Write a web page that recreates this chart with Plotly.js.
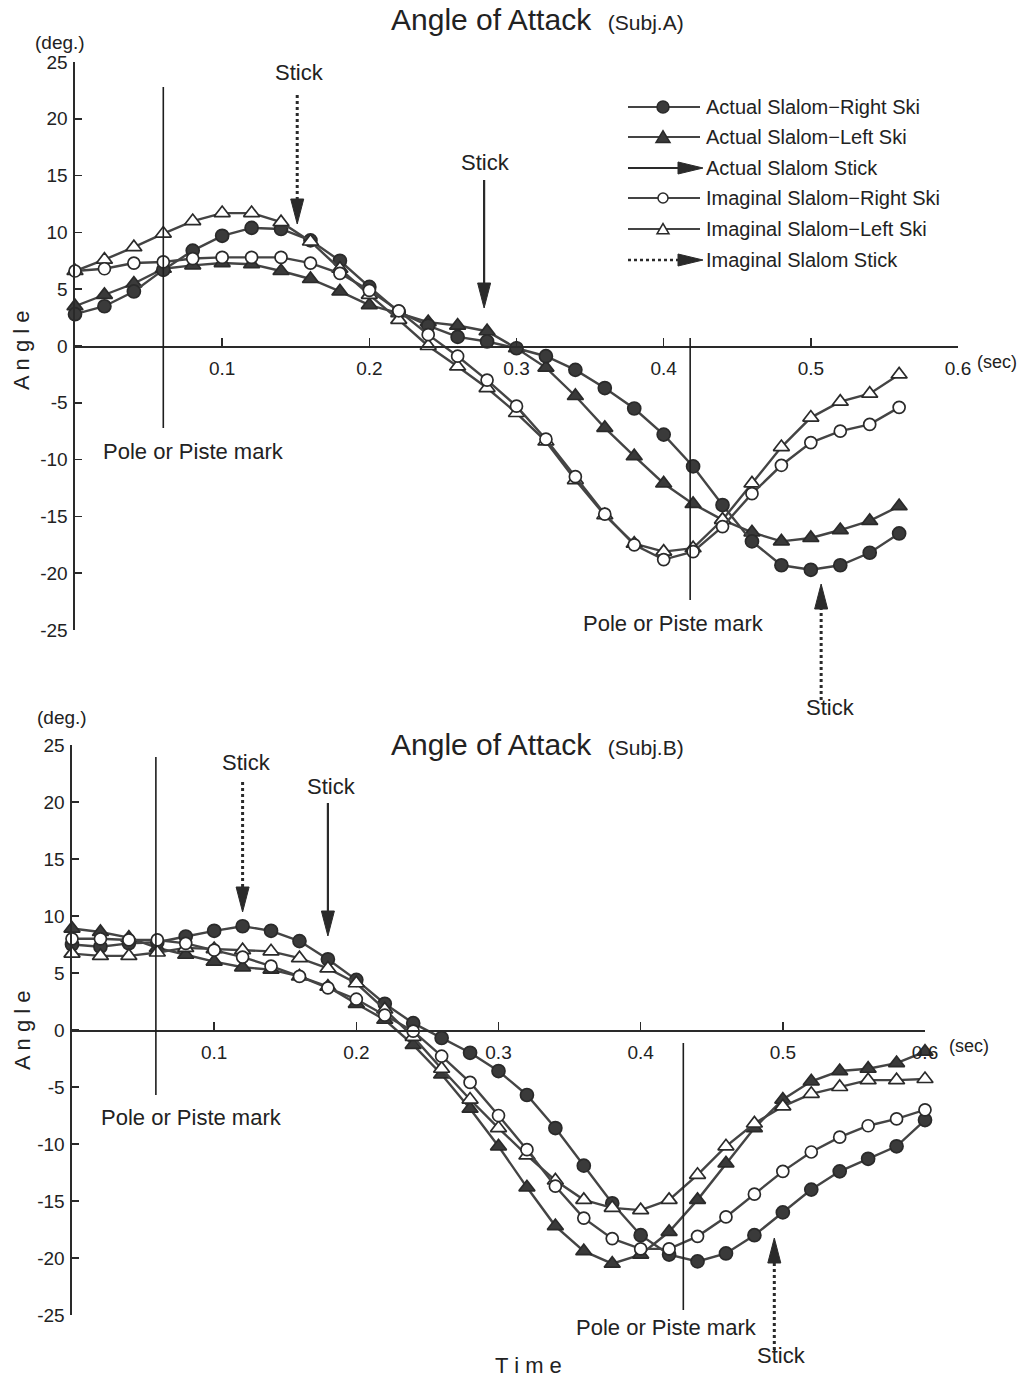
<!DOCTYPE html>
<html><head><meta charset="utf-8">
<script src="https://cdn.plot.ly/plotly-3.0.1.min.js"></script>
<style>body{margin:0;background:#fff}#chart{width:1027px;height:1378px}</style>
</head><body><div id="chart"></div>
<script>
// ---------------- DATA ----------------
const timeA = [0,0.02,0.04,0.06,0.08,0.10,0.12,0.14,0.16,0.18,0.20,0.22,0.24,0.26,0.28,0.30,0.32,0.34,0.36,0.38,0.40,0.42,0.44,0.46,0.48,0.50,0.52,0.54,0.56];
const actualRightA = [2.8,3.5,4.8,6.7,8.4,9.7,10.4,10.3,9.3,7.5,5.2,3.0,1.8,0.8,0.4,-0.2,-0.9,-2.1,-3.7,-5.5,-7.8,-10.6,-14.0,-17.2,-19.3,-19.7,-19.3,-18.2,-16.5];
const actualLeftA = [3.5,4.5,5.5,6.8,7.1,7.3,7.2,6.6,5.9,4.8,3.6,2.9,2.1,1.8,1.3,-0.2,-1.9,-4.4,-7.2,-9.7,-12.1,-13.9,-15.3,-16.4,-17.2,-16.9,-16.2,-15.4,-14.1];
const imagRightA = [6.6,6.8,7.3,7.4,7.7,7.8,7.8,7.8,7.3,6.4,4.9,3.1,1.0,-0.9,-3.0,-5.3,-8.2,-11.5,-14.8,-17.5,-18.8,-18.1,-15.9,-13.0,-10.5,-8.5,-7.5,-6.9,-5.4];
const imagLeftA = [6.6,7.6,8.7,9.9,11.0,11.7,11.7,10.9,9.2,6.8,4.5,2.3,0.0,-1.8,-3.7,-5.9,-8.4,-11.8,-14.9,-17.4,-18.1,-17.8,-15.3,-12.1,-8.9,-6.3,-4.9,-4.2,-2.5];

const timeB = [0,0.02,0.04,0.06,0.08,0.10,0.12,0.14,0.16,0.18,0.20,0.22,0.24,0.26,0.28,0.30,0.32,0.34,0.36,0.38,0.40,0.42,0.44,0.46,0.48,0.50,0.52,0.54,0.56,0.58,0.60];
const actualRightB = [7.5,7.3,7.6,7.7,8.2,8.7,9.1,8.7,7.8,6.2,4.4,2.3,0.6,-0.7,-2.0,-3.6,-5.7,-8.6,-11.9,-15.2,-18.0,-19.7,-20.3,-19.6,-18.0,-16.0,-14.0,-12.4,-11.3,-10.2,-7.9];
const actualLeftB = [8.9,8.6,8.1,7.2,6.6,6.0,5.5,5.3,4.7,3.8,2.3,0.9,-1.3,-3.9,-6.9,-10.2,-13.8,-17.2,-19.4,-20.5,-19.7,-17.7,-14.9,-11.7,-8.6,-6.1,-4.5,-3.6,-3.4,-2.9,-1.9];
const imagRightB = [8.0,8.0,7.9,7.9,7.6,7.0,6.4,5.6,4.7,3.7,2.7,1.3,-0.1,-2.3,-4.6,-7.5,-10.5,-13.7,-16.5,-18.3,-19.2,-19.2,-18.1,-16.4,-14.4,-12.4,-10.7,-9.4,-8.4,-7.8,-7.0];
const imagLeftB = [6.7,6.5,6.5,6.8,7.2,7.1,7.0,6.9,6.3,5.4,4.1,1.8,-0.6,-3.4,-6.1,-8.6,-11.0,-13.2,-14.9,-15.6,-15.8,-14.9,-12.7,-10.2,-8.2,-6.7,-5.6,-5.0,-4.4,-4.4,-4.3];

const poleTimesA = [0.06, 0.418];
const poleTimesB = [0.059, 0.43];
const stickA = {imaginal1: 0.151, actual: 0.278, imaginal2: 0.507};
const stickB = {imaginal1: 0.120, actual: 0.180, imaginal2: 0.494};

const xTickVals = [0.1,0.2,0.3,0.4,0.5,0.6];
const xTickText = ['0.1','0.2','0.3','0.4','0.5','0.6'];
const yTickVals = [-25,-20,-15,-10,-5,0,5,10,15,20,25];
const yTickText = ['-25','-20','-15','-10','-5','0','5','10','15','20','25'];

const legendNames = ['Actual Slalom\u2212Right Ski','Actual Slalom\u2212Left Ski','Actual Slalom Stick',
                     'Imaginal Slalom\u2212Right Ski','Imaginal Slalom\u2212Left Ski','Imaginal Slalom Stick'];

// ---------------- STYLE / LAYOUT ----------------
const W = 1027, H = 1378;
const PX = x => x / W, PY = y => 1 - y / H;
const FONT = 'Liberation Sans, Arial, Helvetica, sans-serif';
const LINE = '#444444', DARK = '#2a2a2a', FILL = '#3a3a3a', TXT = '#222222';

// pixel geometry of the two panels
const A = {x0: 75, x1: 958, yTop: 62, yBot: 630, yZero: 346};
const B = {x0: 72, x1: 925, yTop: 745, yBot: 1315, yZero: 1030};

function series(x, y, xa, ya, sym, fill, size) {
  return {x: x, y: y, xaxis: xa, yaxis: ya, type: 'scatter', mode: 'lines+markers',
    line: {color: LINE, width: 2.4},
    marker: {symbol: sym, size: size, color: fill, line: {color: DARK, width: 1.7}},
    showlegend: false, cliponaxis: false, hoverinfo: 'skip'};
}

const data = [
  series(timeA, actualLeftA, 'x', 'y', 'triangle-up', FILL, 14),
  series(timeA, actualRightA, 'x', 'y', 'circle', FILL, 13),
  series(timeA, imagLeftA, 'x', 'y', 'triangle-up', '#ffffff', 14),
  series(timeA, imagRightA, 'x', 'y', 'circle', '#ffffff', 12),
  series(timeB, actualLeftB, 'x2', 'y2', 'triangle-up', FILL, 14),
  series(timeB, actualRightB, 'x2', 'y2', 'circle', FILL, 13),
  series(timeB, imagLeftB, 'x2', 'y2', 'triangle-up', '#ffffff', 14),
  series(timeB, imagRightB, 'x2', 'y2', 'circle', '#ffffff', 12)
];

function xAxis(P) {
  return {domain: [PX(P.x0), PX(P.x1)], range: [0, 0.6], anchor: 'free', position: PY(P.yZero),
    showline: true, linecolor: DARK, linewidth: 1.6, ticks: 'inside', ticklen: 8, tickwidth: 1.6, tickcolor: DARK,
    tickvals: xTickVals, ticktext: xTickText, ticklabelstandoff: 5,
    tickfont: {family: FONT, size: 19, color: TXT}, showgrid: false, zeroline: false, fixedrange: true};
}
function yAxis(P, anchorX) {
  return {domain: [PY(P.yBot), PY(P.yTop)], range: [-25, 25], anchor: anchorX,
    showline: true, linecolor: DARK, linewidth: 1.6, ticks: 'inside', ticklen: 7, tickwidth: 1.6, tickcolor: DARK,
    tickvals: yTickVals, ticktext: yTickText, ticklabelstandoff: 2,
    tickfont: {family: FONT, size: 19, color: TXT}, showgrid: false, zeroline: false, fixedrange: true};
}

const shapes = [], annotations = [];

function vline(xref, t, y0, y1) {
  shapes.push({type: 'line', xref: xref, yref: 'paper', x0: t, x1: t, y0: PY(y0), y1: PY(y1),
    line: {color: '#1e1e1e', width: 1.6}});
}
function arrow(xref, P, t, yStart, tip, dotted) {
  const unit = (P.x1 - P.x0) / 0.6;
  const hw = 6.5 / unit;
  const dir = tip > yStart ? 1 : -1;
  const base = tip - dir * 25;
  shapes.push({type: 'line', xref: xref, yref: 'paper', x0: t, x1: t, y0: PY(yStart), y1: PY(base),
    line: {color: '#2a2a2a', width: dotted ? 3 : 2.2, dash: dotted ? 'dot' : 'solid'}});
  shapes.push({type: 'path', xref: xref, yref: 'paper',
    path: `M ${t - hw} ${PY(base)} L ${t + hw} ${PY(base)} L ${t} ${PY(tip)} Z`,
    fillcolor: '#2a2a2a', line: {color: '#2a2a2a', width: 1}});
}
function text(x, y, s, size, opts) {
  annotations.push(Object.assign({xref: 'paper', yref: 'paper', x: PX(x), y: PY(y), text: s, showarrow: false,
    xanchor: 'center', yanchor: 'middle', font: {family: FONT, size: size, color: TXT}}, opts || {}));
}

const TITLE_SUB = s => 'Angle of Attack\u00a0\u00a0<span style="font-size:21px">(' + s + ')</span>';

// Panel A decorations
vline('x', poleTimesA[0], 87, 428);
vline('x', poleTimesA[1], 338, 600);
arrow('x', A, stickA.imaginal1, 95, 224, true);
arrow('x', A, stickA.actual, 180, 308, false);
arrow('x', A, stickA.imaginal2, 700, 584, true);
text(299, 73, 'Stick', 22);
text(485, 163, 'Stick', 22);
text(830, 707, 'Stick', 22);
text(193, 452, 'Pole or Piste mark', 22);
text(673, 623, 'Pole or Piste mark', 22);
text(537, 20, TITLE_SUB('Subj.A'), 30);
text(60, 42, '(deg.)', 19);
text(997, 362, '(sec)', 18);
text(22, 350, 'A n g l e', 22, {textangle: -90});

// Panel B decorations
vline('x2', poleTimesB[0], 757, 1095);
vline('x2', poleTimesB[1], 1043, 1310);
arrow('x2', B, stickB.imaginal1, 782, 912, true);
arrow('x2', B, stickB.actual, 803, 936, false);
arrow('x2', B, stickB.imaginal2, 1350, 1238, true);
text(246, 763, 'Stick', 22);
text(331, 786, 'Stick', 22);
text(781, 1355, 'Stick', 22);
text(191, 1117, 'Pole or Piste mark', 22);
text(666, 1327, 'Pole or Piste mark', 22);
text(537, 744, TITLE_SUB('Subj.B'), 30);
text(62, 717, '(deg.)', 19);
text(969, 1046, '(sec)', 18);
text(22, 1030, 'A n g l e', 22, {textangle: -90});
text(528, 1365, 'T i m e', 22);

// Custom legend
const rows = [107, 137, 168, 198, 229, 260];
const kinds = ['fc', 'ft', 'sa', 'oc', 'ot', 'da'];
rows.forEach((ry, i) => {
  const k = kinds[i];
  if (k === 'sa' || k === 'da') {
    shapes.push({type: 'line', xref: 'paper', yref: 'paper', x0: PX(628), x1: PX(680), y0: PY(ry), y1: PY(ry),
      line: {color: '#2a2a2a', width: k === 'da' ? 2.5 : 2, dash: k === 'da' ? 'dot' : 'solid'}});
    shapes.push({type: 'path', xref: 'paper', yref: 'paper',
      path: `M ${PX(678)} ${PY(ry - 6)} L ${PX(678)} ${PY(ry + 6)} L ${PX(703)} ${PY(ry)} Z`,
      fillcolor: '#2a2a2a', line: {color: '#2a2a2a', width: 1}});
  } else {
    shapes.push({type: 'line', xref: 'paper', yref: 'paper', x0: PX(628), x1: PX(700), y0: PY(ry), y1: PY(ry),
      line: {color: LINE, width: 1.8}});
    const fill = (k === 'fc' || k === 'ft') ? FILL : '#ffffff';
    if (k === 'fc' || k === 'oc') {
      const r = k === 'fc' ? 6 : 5;
      shapes.push({type: 'circle', xref: 'paper', yref: 'paper', x0: PX(663 - r), x1: PX(663 + r),
        y0: PY(ry + r), y1: PY(ry - r), fillcolor: fill, line: {color: DARK, width: 1.5}});
    } else {
      const s = k === 'ft' ? 7 : 6;
      shapes.push({type: 'path', xref: 'paper', yref: 'paper',
        path: `M ${PX(663 - s)} ${PY(ry + s * 0.8)} L ${PX(663 + s)} ${PY(ry + s * 0.8)} L ${PX(663)} ${PY(ry - s * 0.9)} Z`,
        fillcolor: fill, line: {color: DARK, width: 1.5}});
    }
  }
  text(704, ry, legendNames[i], 20, {xanchor: 'left'});
});

const layout = {
  width: W, height: H, margin: {l: 0, r: 0, t: 0, b: 0},
  paper_bgcolor: '#ffffff', plot_bgcolor: 'rgba(0,0,0,0)',
  showlegend: false, font: {family: FONT, color: TXT},
  xaxis: xAxis(A), yaxis: yAxis(A, 'x'),
  xaxis2: xAxis(B), yaxis2: yAxis(B, 'x2'),
  shapes: shapes, annotations: annotations
};

Plotly.newPlot('chart', data, layout, {staticPlot: true, displayModeBar: false});
</script>
</body></html>
